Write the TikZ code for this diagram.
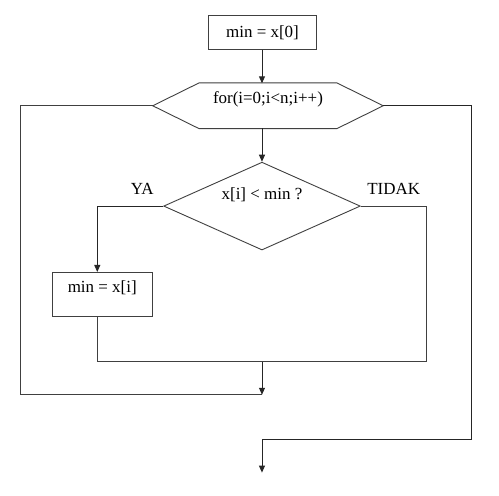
\documentclass[tikz,border=0pt]{standalone}
\usepackage{fontspec}
\setmainfont{Liberation Serif}
\usetikzlibrary{arrows.meta,shapes.geometric,calc}
\begin{document}
\begin{tikzpicture}[x=1pt,y=-1pt,
  every path/.style={line width=0.9pt, draw=black!75},
  font=\fontsize{17}{20}\selectfont,
  procbox/.style={draw=black!75, line width=0.9pt, rectangle, inner sep=0pt},
  arr/.style={-{Triangle[width=6pt,length=7pt]}, draw=black!85}]
\useasboundingbox (0,0) rectangle (499,495);
\fill[white] (0,0) rectangle (499,495);
% start box
\node[procbox, minimum width=109pt, minimum height=34pt] (init) at (262.5,32) {min = x[0]};
% loop hexagon
\node[inner sep=0pt, minimum width=230pt, minimum height=45pt,
      label={[yshift=6pt]center:for(i=0;i<n;i++)}] (for) at (268,105.5) {};
\draw (for.west) -- ($(for.north west)+(46.5,0)$) -- ($(for.north east)+(-46.5,0)$)
      -- (for.east) -- ($(for.south east)+(-46.5,0)$) -- ($(for.south west)+(46.5,0)$) -- cycle;
% decision
\node[draw=black!75, line width=0.9pt, diamond, inner sep=0pt, minimum width=197pt, minimum height=88pt,
      aspect=2.24, label={[yshift=11pt]center:x[i] < min ?}] (dec) at (262,206) {};
% assignment box
\node[procbox, minimum width=100pt, minimum height=45pt,
      label={[yshift=6.5pt]center:min = x[i]}] (asg) at (102,294.5) {};
% labels
\node (ya) at (142,189) {YA};
\node (tidak) at (394,189) {TIDAK};
% coordinates
\coordinate (asgin) at (97,272);
\coordinate (asgout) at (97,317);
\coordinate (rt) at (427,362);
\coordinate (merge) at (262,362);
\coordinate (join) at (262,395);
\coordinate (lft) at (20,395);
\coordinate (ext) at (472,440);
\coordinate (endp) at (262,473);
% connectors
\draw[arr] (init.south -| 262,0) -- (262,83);
\draw[arr] (262,128) -- (dec.north);
\draw[arr] (dec.west) -| (asgin);
\draw (asgout) |- (rt) |- (dec.east);
\draw[arr] (merge) -- (join);
\draw (for.west) -| (lft) -- (join);
\draw[arr] (for.east) -| (ext) -| (endp);
\end{tikzpicture}
\end{document}
